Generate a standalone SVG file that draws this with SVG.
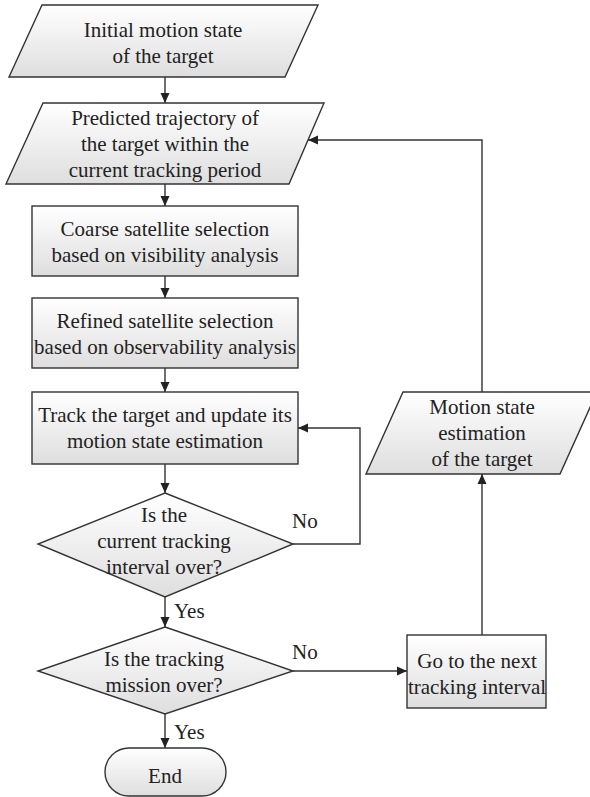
<svg xmlns="http://www.w3.org/2000/svg" width="590" height="797" viewBox="0 0 590 797">
<defs>
<linearGradient id="g" x1="0" y1="0" x2="0" y2="1">
<stop offset="0" stop-color="#ffffff"/>
<stop offset="1" stop-color="#dedede"/>
</linearGradient>
<marker id="ah" viewBox="0 0 10 10" refX="10" refY="5" markerWidth="10" markerHeight="10" markerUnits="userSpaceOnUse" orient="auto">
<path d="M0,0.5 L10,5 L0,9.5 z" fill="#222"/>
</marker>
<style>
.s{fill:url(#g);stroke:#333;stroke-width:1.4}
.t{font-family:"Liberation Serif","Times New Roman",serif;font-size:21px;fill:#222;text-anchor:middle}
.l{font-family:"Liberation Serif","Times New Roman",serif;font-size:21px;fill:#222}
.c{fill:none;stroke:#333;stroke-width:1.4;marker-end:url(#ah)}
</style>
</defs>
<rect width="590" height="797" fill="#fff"/>
<g id="n1"><polygon class="s" points="42,5 318,5 285,77 9,77"/>
<text class="t" x="163" y="37">Initial motion state</text>
<text class="t" x="163" y="63">of the target</text></g>
<g id="n2"><polygon class="s" points="43,103 324,103 289,184 6,184"/>
<text class="t" x="165" y="125">Predicted trajectory of</text>
<text class="t" x="165" y="151">the target within the</text>
<text class="t" x="165" y="177">current tracking period</text></g>
<g id="n3"><rect class="s" x="32" y="206" width="266" height="70"/>
<text class="t" x="165" y="236">Coarse satellite selection</text>
<text class="t" x="165" y="262">based on visibility analysis</text></g>
<g id="n4"><rect class="s" x="32" y="298" width="266" height="70"/>
<text class="t" x="165" y="328">Refined satellite selection</text>
<text class="t" x="165" y="354">based on observability analysis</text></g>
<g id="n5"><rect class="s" x="32" y="392" width="266" height="72"/>
<text class="t" x="165" y="422">Track the target and update its</text>
<text class="t" x="165" y="448">motion state estimation</text></g>
<g id="n6"><polygon class="s" points="165,493 293,544 165,597 38,544"/>
<text class="t" x="164" y="522">Is the</text>
<text class="t" x="164" y="548">current tracking</text>
<text class="t" x="164" y="574">interval over?</text></g>
<g id="n7"><polygon class="s" points="165,627 293,671 165,714 38,671"/>
<text class="t" x="164" y="666">Is the tracking</text>
<text class="t" x="164" y="692">mission over?</text></g>
<g id="n8"><rect class="s" x="105" y="748" width="121" height="48" rx="24"/>
<text class="t" x="165" y="783">End</text></g>
<g id="n9"><rect class="s" x="407" y="635" width="139" height="73"/>
<text class="t" x="477" y="668">Go to the next</text>
<text class="t" x="477" y="694">tracking interval</text></g>
<g id="n10"><polygon class="s" points="403,392 597,392 560,474 366,474"/>
<text class="t" x="482" y="414">Motion state</text>
<text class="t" x="482" y="440">estimation</text>
<text class="t" x="482" y="466">of the target</text></g>
<g id="edges">
<line class="c" x1="165" y1="77" x2="165" y2="103"/>
<line class="c" x1="165" y1="184" x2="165" y2="206"/>
<line class="c" x1="165" y1="276" x2="165" y2="298"/>
<line class="c" x1="165" y1="368" x2="165" y2="392"/>
<line class="c" x1="165" y1="464" x2="165" y2="493"/>
<polyline class="c" points="293,544 360,544 360,428 298,428"/>
<line class="c" x1="165" y1="597" x2="165" y2="627"/>
<line class="c" x1="165" y1="714" x2="165" y2="748"/>
<line class="c" x1="293" y1="671" x2="407" y2="671"/>
<line class="c" x1="482" y1="635" x2="482" y2="474"/>
<polyline class="c" points="482,392 482,140 308,140"/>
<text class="l" x="292" y="528">No</text>
<text class="l" x="292" y="659">No</text>
<text class="l" x="174" y="618">Yes</text>
<text class="l" x="174" y="739">Yes</text>
</g>
</svg>
